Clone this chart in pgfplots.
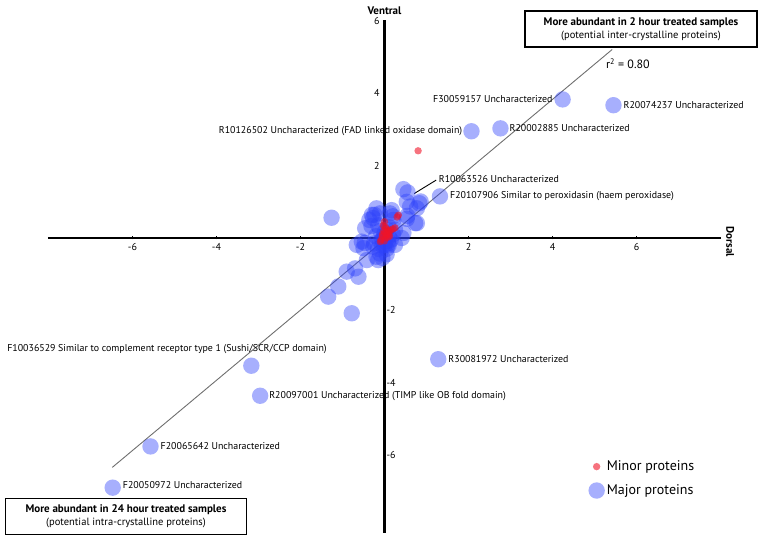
\documentclass[border=0pt]{standalone}
\usepackage{fontspec}
\setmainfont{PT Sans}
\usepackage{pgfplots}
\pgfplotsset{compat=1.18}
\definecolor{major}{RGB}{45,65,250}
\definecolor{minor}{RGB}{240,20,40}
\definecolor{regline}{RGB}{110,110,110}
\newcommand\lab{\fontsize{9.9}{11}\selectfont}
\begin{document}
\begin{tikzpicture}[x=1pt,y=1pt]
\path[use as bounding box] (0,0) rectangle (760,535);
\begin{axis}[
  at={(384.5pt,297pt)}, anchor=origin,
  scale only axis, width=673pt, height=512pt,
  xmin=-8.01, xmax=8.01, ymin=-8.15, ymax=6.0,
  axis lines=middle,
  axis line style={line width=2.2pt,-},
  every inner x axis line/.append style={-},
  every inner y axis line/.append style={-},
  xtick={-6,-4,-2,2,4,6},
  ytick={2,4,6},
  extra y ticks={-2,-4,-6},
  extra y tick style={yticklabel style={anchor=west}},
  tick style={black,line width=1.2pt},
  major tick length=3pt,
  /pgf/number format/assume math mode=true,
  ticklabel style={font=\fontsize{10}{12}\selectfont},
  clip=false,
  legend cell align=left,
  reverse legend,
  legend style={at={(axis cs:4.85,-6.1)}, anchor=north west, draw=none, fill=none,
    font=\fontsize{14}{16}\selectfont, row sep=8pt, inner sep=0pt},
]
\addplot[only marks, mark=*, mark size=8.2pt, color=major,
  mark options={draw=none, draw opacity=0, fill=major, fill opacity=0.42},
  legend image code/.code={\path[fill=major,fill opacity=0.42,draw=none,draw opacity=0] (0pt,0pt) circle (8.2pt);}]
table {
4.24 3.83
5.45 3.67
2.07 2.95
2.76 3.03
1.32 1.15
-3.17 -3.53
1.28 -3.35
-2.96 -4.36
-5.57 -5.76
-6.47 -6.90
0.45 1.35
0.55 1.26
-1.26 0.56
0.83 0.96
0.61 0.87
0.86 1.01
0.73 0.41
0.53 0.53
0.54 0.61
0.77 0.41
-0.11 0.68
-0.27 0.55
0.13 0.68
-0.31 0.33
0.21 0.50
0.41 0.0
-0.54 -0.1
-0.50 -0.28
-0.27 -0.24
-0.19 -0.52
-0.42 -0.61
-0.70 -0.84
-0.90 -0.93
-0.62 -1.07
-1.10 -1.34
-1.34 -1.62
-0.78 -2.08
-0.11 -0.43
0.09 -0.15
0.25 0.23
0.06 0.23
0.2 0.6
-0.24 0.64
-0.36 0.5
0.45 0.14
-0.47 -0.14
0.53 1.0
0.77 0.82
-0.46 0.27
-0.66 -0.19
-0.15 -0.61
0.25 -0.19
-0.3 0.64
-0.19 0.82
0.17 0.77
0 0
-0.1 -0.1
0.1 0.05
-0.05 -0.2
0.05 -0.3
-0.15 -0.3
0.15 -0.05
-0.2 0.05
0 0.15
0.1 -0.2
-0.1 0.2
0.2 0.1
-0.25 -0.15
0.05 -0.45
-0.05 -0.55
0.1 0.3
-0.15 0.35
0.02 -0.1
-0.02 0.05
0.08 -0.08
-0.05 -0.05
0.0 -0.2
};
\addlegendentry{Major proteins}
\addplot[only marks, mark=*, mark size=3.7pt, color=minor,
  mark options={draw=none, draw opacity=0, fill=minor, fill opacity=0.6},
  legend image code/.code={\path[fill=minor,fill opacity=0.6,draw=none,draw opacity=0] (0pt,0pt) circle (3.7pt);}]
table {
0.80 2.41
0.33 0.63
0.30 0.58
0.0 0.45
-0.03 0.35
0.02 0.3
0.05 0.25
0.08 0.2
0.12 0.18
0.2 0.25
0.25 0.28
0.15 0.22
0.0 0.15
-0.05 0.1
-0.05 0.05
0.02 0.0
-0.08 -0.05
-0.1 -0.1
0.05 0.08
0.1 0.1
-0.02 0.2
0.0 -0.08
0.08 0.02
0.12 0.05
};
\addlegendentry{Minor proteins}
\addplot[regline, line width=0.9pt, forget plot] coordinates {(-6.48,-6.34) (5.42,5.21)};
\addplot[black, line width=0.9pt, forget plot] coordinates {(0.71,1.23) (1.23,1.60)};
\node[anchor=south, inner sep=0pt, font=\bfseries\fontsize{11}{13}\selectfont] at (axis cs:0,6) [yshift=6pt] {Ventral};
\node[rotate=-90, inner sep=0pt, font=\bfseries\fontsize{11}{13}\selectfont] at (axis cs:8.23,-0.11) {Dorsal};
\node[anchor=west, inner sep=0pt, font=\fontsize{12}{14}\selectfont] at (axis cs:5.27,4.81) {r\textsuperscript{2} = 0.80};
\node[anchor=east, inner sep=0pt, font=\lab, xshift=-10pt] at (axis cs:4.24,3.83) {F30059157 Uncharacterized};
\node[anchor=west, inner sep=0pt, font=\lab, xshift=10pt] at (axis cs:5.45,3.67) {R20074237 Uncharacterized};
\node[anchor=east, inner sep=0pt, font=\lab, xshift=-9pt] at (axis cs:2.07,2.95) {R10126502 Uncharacterized (FAD linked oxidase domain)};
\node[anchor=west, inner sep=0pt, font=\lab, xshift=9pt] at (axis cs:2.76,3.03) {R20002885 Uncharacterized};
\node[anchor=west, inner sep=0pt, font=\lab] at (axis cs:1.29,1.63) {R10063526 Uncharacterized};
\node[anchor=west, inner sep=0pt, font=\lab, xshift=10pt] at (axis cs:1.32,1.15) {F20107906 Similar to peroxidasin (haem peroxidase)};
\node[anchor=east, inner sep=0pt, font=\lab] at (axis cs:-1.37,-3.07) {F10036529 Similar to complement receptor type 1 (Sushi/SCR/CCP domain)};
\node[anchor=west, inner sep=0pt, font=\lab, xshift=10pt] at (axis cs:1.28,-3.35) {R30081972 Uncharacterized};
\node[anchor=west, inner sep=0pt, font=\lab, xshift=9pt] at (axis cs:-2.96,-4.36) {R20097001 Uncharacterized (TIMP like OB fold domain)};
\node[anchor=west, inner sep=0pt, font=\lab, xshift=10pt] at (axis cs:-5.57,-5.76) {F20065642 Uncharacterized};
\node[anchor=west, inner sep=0pt, font=\lab, xshift=10pt, yshift=3pt] at (axis cs:-6.47,-6.90) {F20050972 Uncharacterized};
\end{axis}
\node[draw, line width=1.8pt, fill=white, minimum width=232pt, minimum height=36pt, align=center, inner sep=2pt] at (641,506)
  {{\bfseries\fontsize{11}{13}\selectfont More abundant in 2 hour treated samples}\\[1pt]{\fontsize{10.5}{12}\selectfont (potential inter-crystalline proteins)}};
\node[draw, line width=1.8pt, fill=white, minimum width=241pt, minimum height=36pt, align=center, inner sep=2pt] at (126,18.5)
  {{\bfseries\fontsize{11}{13}\selectfont More abundant in 24 hour treated samples}\\[1pt]{\fontsize{10.5}{12}\selectfont (potential intra-crystalline proteins)}};
\end{tikzpicture}
\end{document}
